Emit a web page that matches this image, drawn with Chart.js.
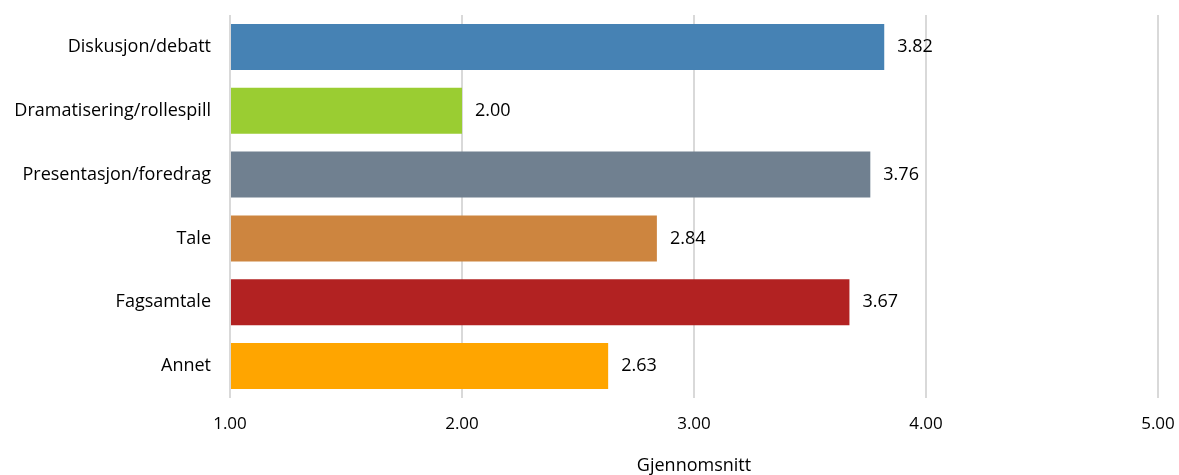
<!DOCTYPE html>
<html>
<head>
<meta charset="utf-8">
<script src="https://cdn.jsdelivr.net/npm/chart.js@4/dist/chart.umd.min.js"></script>
<style>
    html, body { margin: 0; padding: 0; background: #ffffff; }
    #wrap { width: 1179px; height: 475px; }
</style>
</head>
<body>
<div id="wrap"><canvas id="avgChart"></canvas></div>
<script>
const categories = ["Diskusjon/debatt", "Dramatisering/rollespill", "Presentasjon/foredrag", "Tale", "Fagsamtale", "Annet"];
const averages = [3.82, 2.00, 3.76, 2.84, 3.67, 2.63];
const barColors = ["#4682B4", "#9ACD32", "#708090", "#CD853F", "#B22222", "#FFA500"];
const xTicks = [1, 2, 3, 4, 5];

const FONT = "'Open Sans', sans-serif";

// writes the average next to the end of each bar
const valueLabels = {
    id: "valueLabels",
    afterDatasetsDraw(chart) {
        const ctx = chart.ctx;
        const meta = chart.getDatasetMeta(0);
        ctx.save();
        ctx.font = "18px " + FONT;
        ctx.fillStyle = "#000000";
        ctx.textAlign = "left";
        ctx.textBaseline = "middle";
        meta.data.forEach((bar, i) => {
            ctx.fillText(averages[i].toFixed(2), bar.x + 13, bar.y);
        });
        ctx.restore();
    }
};

const chartCtx = document.getElementById("avgChart");

new Chart(chartCtx, {
    type: "bar",
    data: {
        labels: categories,
        datasets: [{
            data: averages,
            backgroundColor: barColors,
            base: 1,
            barPercentage: 0.72,
            categoryPercentage: 1
        }]
    },
    plugins: [valueLabels],
    options: {
        indexAxis: "y",
        responsive: true,
        maintainAspectRatio: false,
        animation: false,
        layout: {
            padding: { top: 15, right: 21, left: 0, bottom: 0 }
        },
        plugins: {
            legend: { display: false },
            tooltip: { enabled: false }
        },
        scales: {
            x: {
                min: 1,
                max: 5,
                afterBuildTicks: scale => {
                    scale.ticks = xTicks.map(v => ({ value: v }));
                },
                afterFit: scale => {
                    scale.height = 77;
                    scale.paddingLeft = 0;
                    scale.paddingRight = 0;
                },
                grid: {
                    color: "#d9d9d9",
                    lineWidth: 2,
                    drawTicks: false
                },
                border: { display: false },
                ticks: {
                    padding: 16,
                    color: "#000000",
                    font: { family: FONT, size: 17 },
                    callback: v => Number(v).toFixed(2)
                },
                title: {
                    display: true,
                    text: "Gjennomsnitt",
                    color: "#000000",
                    font: { family: FONT, size: 18 },
                    padding: { top: 0, bottom: -2 }
                }
            },
            y: {
                afterFit: scale => {
                    scale.width = 230;
                    scale.paddingTop = 0;
                    scale.paddingBottom = 0;
                },
                grid: { display: false, drawTicks: false },
                border: { display: false },
                ticks: {
                    padding: 19,
                    color: "#000000",
                    font: { family: FONT, size: 18 }
                }
            }
        }
    }
});
</script>
</body>
</html>
